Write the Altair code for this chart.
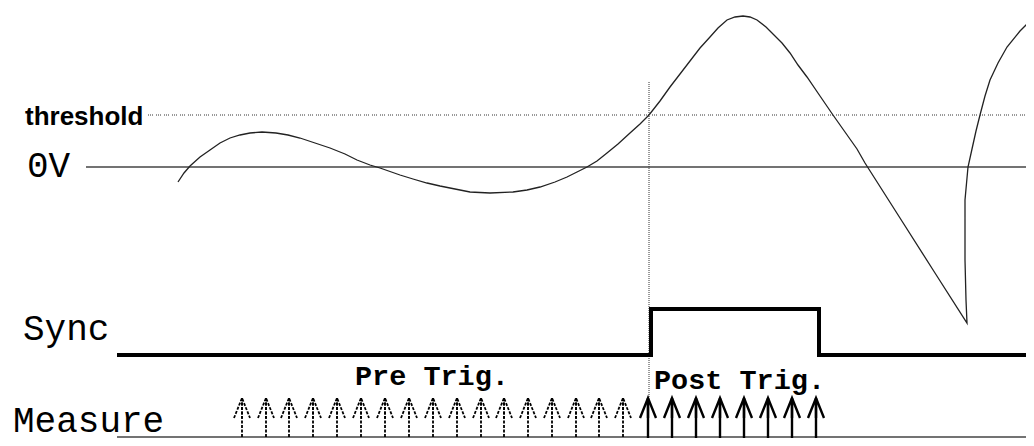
import altair as alt
import pandas as pd

# ---- data (horizontal = time, vertical = screen level) ----
curve_x = [178, 184, 190, 200, 210, 220, 230, 240, 250, 262, 276, 288, 300, 315, 330, 345,
           357, 370, 380, 400, 413, 427, 440, 455, 470, 490, 513, 527, 540, 555, 567, 577,
           587, 597, 607, 618, 630, 640, 649, 660, 670, 680, 690, 700, 710, 718, 727, 735,
           743, 750, 757, 766, 774, 782, 790, 798, 807, 820, 833, 845, 857, 865, 900, 935,
           967, 966, 965, 965, 968, 972, 976, 980, 985, 990, 998, 1007, 1020, 1033]
curve_y = [182, 173, 166, 157, 150, 143, 138, 135, 133, 132, 133, 135, 138, 143, 148, 154,
           160, 165, 168, 175, 179, 183, 186, 189, 192, 193, 192, 190, 187, 182, 177, 172,
           167, 161, 153, 144, 133, 124, 115, 101, 87, 74, 61, 48, 37, 28, 20, 17,
           16, 17, 20, 27, 35, 43, 53, 65, 77, 96, 115, 132, 149, 163, 218, 273,
           323, 300, 260, 200, 167, 149, 131, 115, 96, 80, 63, 47, 31, 18]

threshold_level = 115
threshold_start = 148
zero_level = 167
zero_start = 86
x_end = 1034

trigger_x = 649
trigger_top = 82

sync_x = [117, 651, 651, 819, 819, 1034]
sync_y = [355, 355, 309, 309, 355, 355]

measure_base = 437
measure_start = 117
arrow_x = [242, 266, 289, 313, 337, 361, 385, 409, 433, 457, 481, 504, 528, 552, 576, 599,
           623, 648, 672, 696, 720, 744, 768, 792, 816]
arrow_phase = ["pre"] * 17 + ["post"] * 8
arrow_tip = 398
arrow_bottom = 446

labels_big = ["0V", "Sync", "Measure"]
labels_big_x = [27, 23, 13]
labels_big_y = [177, 340, 432]
labels_small = ["Pre Trig.", "Post Trig."]
labels_small_x = [355, 654]
labels_small_y = [385, 389]

# ---- scales ----
xs = alt.Scale(domain=[8, 1026], nice=False, zero=False)
ys = alt.Scale(domain=[8, 438], reverse=True, nice=False, zero=False)

def X(f):
    return alt.X(f, type="quantitative", scale=xs, axis=None)

def Y(f):
    return alt.Y(f, type="quantitative", scale=ys, axis=None)

hlines = pd.DataFrame({
    "x": [threshold_start, zero_start, measure_start],
    "x2": [x_end, x_end, x_end],
    "y": [threshold_level, zero_level, measure_base],
    "kind": ["thr", "zero", "base"],
})

thr = alt.Chart(hlines[hlines.kind == "thr"]).mark_rule(
    color="#333", strokeWidth=1, strokeDash=[1, 1, 1, 1, 1, 3]
).encode(x=X("x"), x2="x2", y=Y("y"))

solid_h = alt.Chart(hlines[hlines.kind != "thr"]).mark_rule(
    color="#444", strokeWidth=1.6
).encode(x=X("x"), x2="x2", y=Y("y"))

trig = alt.Chart(pd.DataFrame({"x": [trigger_x], "y": [trigger_top], "y2": [arrow_tip]})).mark_rule(
    color="#333", strokeWidth=1, strokeDash=[1, 1]
).encode(x=X("x"), y=Y("y"), y2="y2")

curve_df = pd.DataFrame({"x": curve_x, "y": curve_y, "i": list(range(len(curve_x)))})
curve = alt.Chart(curve_df).mark_line(color="#222", strokeWidth=1.3).encode(
    x=X("x"), y=Y("y"), order="i:Q"
)

sync_df = pd.DataFrame({"x": sync_x, "y": sync_y, "i": list(range(len(sync_x)))})
sync = alt.Chart(sync_df).mark_line(color="black", strokeWidth=4, strokeJoin="miter", strokeCap="butt").encode(
    x=X("x"), y=Y("y"), order="i:Q"
)

arr_df = pd.DataFrame({"x": arrow_x, "phase": arrow_phase,
                       "tip": [arrow_tip] * len(arrow_x), "bottom": [arrow_bottom] * len(arrow_x),
                       "head": [arrow_tip + 10] * len(arrow_x)})
head_path = "M -0.8 1 L 0 -1 L 0.8 1 M 0 -1 L 0 1"

pre_shaft = alt.Chart(arr_df[arr_df.phase == "pre"]).mark_rule(
    color="black", strokeWidth=1.8, strokeDash=[3, 1.5]
).encode(x=X("x"), y=Y("tip"), y2="bottom")
pre_head = alt.Chart(arr_df[arr_df.phase == "pre"]).mark_point(
    shape=head_path, filled=False, size=400, color="black", strokeWidth=1.8,
    strokeDash=[3, 1.5], opacity=1
).encode(x=X("x"), y=Y("head"))
post_shaft = alt.Chart(arr_df[arr_df.phase == "post"]).mark_rule(
    color="black", strokeWidth=2.4
).encode(x=X("x"), y=Y("tip"), y2="bottom")
post_head = alt.Chart(arr_df[arr_df.phase == "post"]).mark_point(
    shape=head_path, filled=False, size=400, color="black", strokeWidth=2.4, opacity=1
).encode(x=X("x"), y=Y("head"))

thr_label = alt.Chart(pd.DataFrame({"t": ["threshold"], "x": [25], "y": [125]})).mark_text(
    font="Liberation Sans", fontSize=26, fontWeight="bold", align="left", baseline="alphabetic", color="black"
).encode(x=X("x"), y=Y("y"), text="t:N")

big = alt.Chart(pd.DataFrame({"t": labels_big, "x": labels_big_x, "y": labels_big_y})).mark_text(
    font="Liberation Mono", fontSize=36, align="left", baseline="alphabetic", color="black"
).encode(x=X("x"), y=Y("y"), text="t:N")

small = alt.Chart(pd.DataFrame({"t": labels_small, "x": labels_small_x, "y": labels_small_y})).mark_text(
    font="Liberation Mono", fontSize=28.5, fontWeight="bold", align="left", baseline="alphabetic", color="black"
).encode(x=X("x"), y=Y("y"), text="t:N")

chart = alt.layer(
    thr, solid_h, trig, curve, sync, pre_shaft, pre_head, post_shaft, post_head,
    thr_label, big, small
).properties(
    width=1018, height=430, autosize="none",
    padding={"left": 0, "top": 0, "right": 0, "bottom": 0},
    background="white",
).configure_view(stroke=None)

chart.save("out.html", embed_options={"renderer": "svg", "actions": False})
